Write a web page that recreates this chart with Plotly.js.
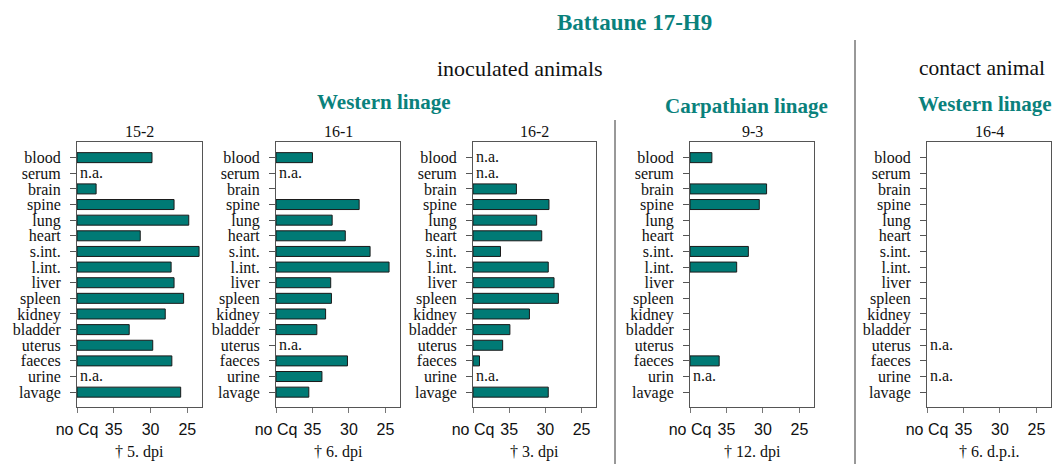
<!DOCTYPE html>
<html>
<head>
<meta charset="utf-8">
<script src="https://cdn.plot.ly/plotly-3.0.1.min.js"></script>
<style>html,body{margin:0;padding:0;background:#fff;}#chart{width:1056px;height:464px;}</style>
</head>
<body>
<div id="chart"></div>
<script>
// ---- data ----
const organs = ['blood','serum','brain','spine','lung','heart','s.int.','l.int.','liver','spleen','kidney','bladder','uterus','faeces','urine','lavage'];
const organs93 = ['blood','serum','brain','spine','lung','heart','s.int.','l.int.','liver','spleen','kidney','bladder','uterus','faeces','urin','lavage'];
const animals = ['15-2','16-1','16-2','9-3','16-4'];
const deathLabels = ['† 5. dpi','† 6. dpi','† 3. dpi','† 12. dpi','† 6. d.p.i.'];
// Cq values (null = no Cq / not shown)
const cq152 = [29.8, null, 37.4, 26.8, 24.8, 31.4, 23.4, 27.2, 26.8, 25.5, 28.0, 32.9, 29.7, 27.1, null, 25.9];
const cq161 = [35.0, null, null, 28.6, 32.3, 30.5, 27.1, 24.5, 32.5, 32.4, 33.2, 34.4, null, 30.2, 33.7, 35.5];
const cq162 = [null, null, 34.0, 29.5, 31.2, 30.5, 36.2, 29.6, 28.8, 28.2, 32.2, 34.9, 35.9, 39.1, null, 29.6];
const cq93  = [37.0, null, 29.5, 30.5, null, null, 32.0, 33.6, null, null, null, null, null, 36.0, null, null];
const cq164 = [null, null, null, null, null, null, null, null, null, null, null, null, null, null, null, null];
// not analysed samples
const na152 = ['serum','urine'];
const na161 = ['serum','uterus'];
const na162 = ['blood','serum','urine'];
const na93  = ['urin'];
const na164 = ['uterus','urine'];
const xTickVals = [40, 35, 30, 25];
const xTickText = ['no Cq', '35', '30', '25'];
const noCq = 40;

// ---- layout helpers ----
const W = 1056, H = 464;
const panels = [
  {cq: cq152, na: na152, cats: organs, l: 77, r: 202},
  {cq: cq161, na: na161, cats: organs, l: 276, r: 400},
  {cq: cq162, na: na162, cats: organs, l: 473, r: 596},
  {cq: cq93,  na: na93,  cats: organs93, l: 690, r: 814},
  {cq: cq164, na: na164, cats: organs, l: 927, r: 1051}
];
const boxTop = 142, boxBottom = 407;
const teal = '#0a817c';
const barColor = '#007a75';
const serif = 'Liberation Serif, serif';
const sans = 'Liberation Sans, Arial, sans-serif';

const traces = [];
const layout = {
  width: W, height: H, autosize: false,
  margin: {l: 0, r: 0, t: 0, b: 0},
  paper_bgcolor: '#fff', plot_bgcolor: '#fff',
  showlegend: false,
  annotations: [], shapes: [],
  bargap: 0.36
};

panels.forEach((p, i) => {
  const n = i + 1;
  const xa = n === 1 ? 'x' : 'x' + n;
  const ya = n === 1 ? 'y' : 'y' + n;
  const xs = [], ys = [];
  p.cq.forEach((v, k) => {
    if (v !== null) { xs.push(v - noCq); ys.push(p.cats[k]); }
  });
  traces.push({
    type: 'bar', orientation: 'h', x: xs, y: ys, base: noCq,
    xaxis: xa, yaxis: ya,
    marker: {color: barColor, line: {color: '#1a1a1a', width: 1}},
    hoverinfo: 'skip'
  });
  layout['xaxis' + (n === 1 ? '' : n)] = {
    domain: [p.l / W, p.r / W], anchor: ya,
    range: [40, 23], showgrid: false, zeroline: false,
    tickvals: xTickVals, ticktext: xTickText,
    ticks: 'outside', ticklen: 5, tickcolor: '#777', tickwidth: 1,
    ticklabelstandoff: 3,
    tickfont: {family: sans, size: 16, color: '#111'},
    showline: true, mirror: true, linecolor: '#555', linewidth: 1,
    fixedrange: true
  };
  layout['yaxis' + (n === 1 ? '' : n)] = {
    domain: [(H - boxBottom) / H, (H - boxTop) / H], anchor: xa,
    type: 'category', categoryorder: 'array', categoryarray: p.cats,
    range: [15.95, -1], showgrid: false, zeroline: false,
    tickvals: p.cats, ticktext: p.cats,
    ticks: 'outside', ticklen: 6, tickcolor: '#555', tickwidth: 1,
    ticklabelstandoff: 6,
    tickfont: {family: serif, size: 16, color: '#111'},
    showline: true, mirror: true, linecolor: '#555', linewidth: 1,
    fixedrange: true
  };
  p.na.forEach(c => {
    layout.annotations.push({
      xref: xa, yref: ya, x: noCq, y: c, text: 'n.a.', showarrow: false,
      xanchor: 'left', xshift: 1, yshift: 1,
      font: {family: serif, size: 16, color: '#111'}
    });
  });
  const cx = (p.l + p.r) / 2 / W;
  layout.annotations.push({
    xref: 'paper', yref: 'paper', x: cx, y: (H - 131) / H, text: animals[i],
    showarrow: false, xanchor: 'center', yanchor: 'middle',
    font: {family: serif, size: 16, color: '#111'}
  });
  layout.annotations.push({
    xref: 'paper', yref: 'paper', x: cx, y: (H - 452) / H, text: deathLabels[i],
    showarrow: false, xanchor: 'center', yanchor: 'middle',
    font: {family: serif, size: 16, color: '#111'}
  });
});

const headers = [
  {t: '<b>Battaune 17-H9</b>', x: 634, y: 22, size: 23, color: teal},
  {t: 'inoculated animals', x: 520, y: 68, size: 22, color: '#111'},
  {t: 'contact animal', x: 982, y: 68, size: 21.5, color: '#111'},
  {t: '<b>Western linage</b>', x: 384, y: 102, size: 21, color: teal},
  {t: '<b>Carpathian linage</b>', x: 746, y: 106, size: 21, color: teal},
  {t: '<b>Western linage</b>', x: 985, y: 104, size: 21, color: teal}
];
headers.forEach(h => {
  layout.annotations.push({
    xref: 'paper', yref: 'paper', x: h.x / W, y: (H - h.y) / H, text: h.t,
    showarrow: false, xanchor: 'center', yanchor: 'middle',
    font: {family: serif, size: h.size, color: h.color}
  });
});

layout.shapes.push({type: 'line', xref: 'paper', yref: 'paper', x0: 615 / W, x1: 615 / W, y0: 0, y1: (H - 120) / H, line: {color: '#333', width: 1}});
layout.shapes.push({type: 'line', xref: 'paper', yref: 'paper', x0: 855 / W, x1: 855 / W, y0: 0, y1: (H - 40) / H, line: {color: '#333', width: 1}});

Plotly.newPlot('chart', traces, layout, {displayModeBar: false, staticPlot: true});
</script>
</body>
</html>
